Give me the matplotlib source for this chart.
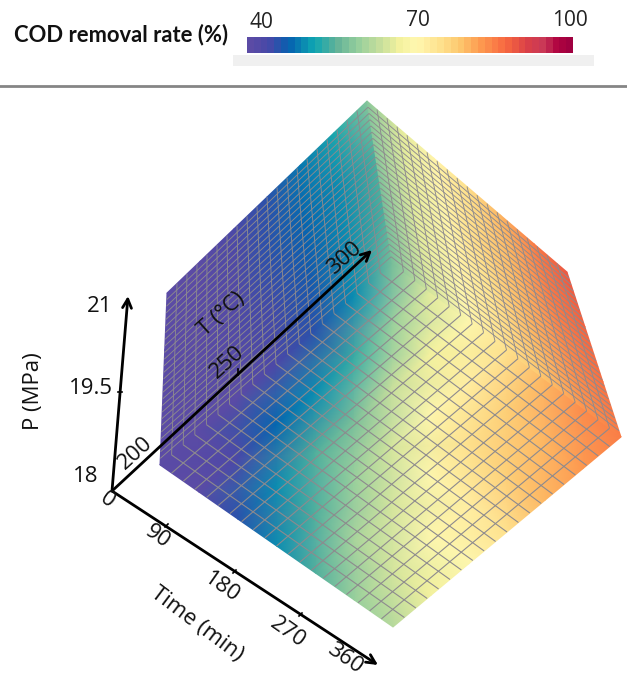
import numpy as np
import matplotlib
matplotlib.use('Agg')
import matplotlib.pyplot as plt
from matplotlib.cm import ScalarMappable
from matplotlib.colors import LinearSegmentedColormap, Normalize
from matplotlib.patches import Rectangle

# COD removal (%), rows run along the first edge of each face
floor_values = [
    [40, 40, 41, 43, 46, 50, 58],
    [41, 43, 48, 50, 54, 60, 67],
    [45, 50, 55, 58, 64, 68, 71],
    [51, 56, 61, 66, 70, 73, 76],
    [56, 62, 66, 71, 75, 78, 81],
    [60, 66, 70, 73, 78, 81, 84],
    [63, 68, 71, 76, 80, 83, 86],
]
left_wall_values = [
    [40, 40, 41, 43, 46, 50, 58],
    [40, 40, 42, 44, 47, 50, 55],
    [40, 40, 42, 45, 48, 51, 55],
    [40, 41, 43, 46, 49, 53, 59],
]
right_wall_values = [
    [58, 66, 71, 75, 79, 83, 86],
    [58, 67, 72, 76, 80, 84, 87],
    [59, 67, 72, 77, 81, 85, 88],
    [59, 67, 72, 76, 80, 85, 89],
]

cbar_ticks = ['40', '70', '100']
time_ticks = ['90', '180', '270', '360']
temp_ticks = ['200', '250', '300']
pres_ticks = ['18', '19.5', '21']

# face corners in canvas pixels
LEFT = (160, 465)
BOTTOM = (393, 627)
RIGHT = (621, 437)
INNER = (392, 263)
TOP = (367, 101)
WALL_L = (167, 293)
WALL_R = (567, 272)
ORIGIN = (112, 491)

GRID = '#8d8a8e'

spectral = LinearSegmentedColormap.from_list('cod', [
    (0.00, '#5b4ba5'), (0.06, '#4648a8'), (0.12, '#0560b0'), (0.20, '#0ea6b2'),
    (0.27, '#62b198'), (0.33, '#90cc9c'), (0.40, '#c2dd9c'), (0.47, '#f4f29e'),
    (0.52, '#fff7b0'), (0.60, '#fee08b'), (0.66, '#fdc56c'), (0.72, '#fd9a50'),
    (0.80, '#f76840'), (0.87, '#d93f48'), (0.92, '#c83858'), (0.96, '#b00440'),
    (1.00, '#a00040')], N=48)
norm = Normalize(40, 100)


def bilinear(c00, c01, c10, c11, u, v):
    # u runs c00->c10, v runs c00->c01
    c00, c01, c10, c11 = map(np.array, (c00, c01, c10, c11))
    u = np.asarray(u)[..., None]
    v = np.asarray(v)[..., None]
    return (1-u)*(1-v)*c00 + (1-u)*v*c01 + u*(1-v)*c10 + u*v*c11


def draw_face(ax, corners, values, n_u, n_v, lw):
    values = np.array(values, dtype=float)
    u, v = np.meshgrid(np.linspace(0, 1, values.shape[0]),
                       np.linspace(0, 1, values.shape[1]), indexing='ij')
    p = bilinear(*corners, u, v)
    ax.pcolormesh(p[..., 0], p[..., 1], values, cmap=spectral, norm=norm,
                  shading='gouraud', zorder=2, rasterized=True)
    for a in np.linspace(0, 1, n_u+1)[1:-1]:
        q = bilinear(*corners, np.array([a, a]), np.array([0., 1.]))
        ax.plot(q[:, 0], q[:, 1], color=GRID, lw=lw, zorder=3, solid_capstyle='butt')
    for b in np.linspace(0, 1, n_v+1)[1:-1]:
        q = bilinear(*corners, np.array([0., 1.]), np.array([b, b]))
        ax.plot(q[:, 0], q[:, 1], color=GRID, lw=lw, zorder=3, solid_capstyle='butt')


plt.rcParams['font.family'] = ['Open Sans', 'DejaVu Sans']
fig = plt.figure(figsize=(6.27, 6.78), dpi=100)
ax = fig.add_axes([0, 0, 1, 1])
ax.set_xlim(0, 627)
ax.set_ylim(678, 0)
ax.axis('off')

draw_face(ax, (LEFT, INNER, BOTTOM, RIGHT), floor_values, 20, 20, 0.8)
draw_face(ax, (LEFT, INNER, WALL_L, TOP), left_wall_values, 26, 20, 0.65)
draw_face(ax, (INNER, RIGHT, TOP, WALL_R), right_wall_values, 26, 20, 0.65)

# header: legend title, colour bar, grey band and rule
ax.text(14, 35, 'COD removal rate (%)', fontsize=15.8, fontweight='bold',
        family='Lato', color='#111111', va='center', ha='left')
ax.add_patch(Rectangle((233, 55), 361, 11, fc='#f0f0f0', ec='none'))
ax.plot([0, 627], [86, 86], color='#858585', lw=2)

cax = fig.add_axes([247/627, 1-53/678, 326/627, 16/678])
cb = fig.colorbar(ScalarMappable(norm=norm, cmap=spectral), cax=cax, orientation='horizontal')
cb.set_ticks([])
cb.outline.set_visible(False)
for lab, (x, y) in zip(cbar_ticks, [(261, 22), (418, 20), (570, 21)]):
    ax.text(x, y, lab, fontsize=15, color='#222222', ha='center', va='center')

# axes arrows
for tip in [(128, 296), (372, 250), (378, 665)]:
    ax.annotate('', xy=tip, xytext=ORIGIN, zorder=5,
                arrowprops=dict(arrowstyle='->', lw=2, color='black', mutation_scale=16,
                                shrinkA=0, shrinkB=0))

# tick stubs
for a, b in [((118, 392), (122, 392)), ((238, 375), (238, 369)),
             ((165, 527), (168, 524)), ((233, 573), (236, 570)), ((299, 616), (302, 613))]:
    ax.plot([a[0], b[0]], [a[1], b[1]], color='black', lw=1.2, zorder=5)

for lab, xy in zip(pres_ticks, [(86, 477), (91, 388), (100, 307)]):
    ax.text(*xy, lab, fontsize=16, color='#111111', ha='center', va='center', zorder=6)
for lab, xy in zip(temp_ticks, [(135, 453), (227, 362), (345, 258)]):
    ax.text(*xy, lab, fontsize=16, color='#111111', ha='center', va='center',
            rotation=42, rotation_mode='anchor', zorder=6)
for lab, xy in zip(time_ticks, [(157, 537), (222, 587), (288, 632), (345, 658)]):
    ax.text(*xy, lab, fontsize=16, color='#111111', ha='center', va='center',
            rotation=-35, rotation_mode='anchor', zorder=6)
ax.text(107, 500, '0', fontsize=16, color='#111111', ha='center', va='center',
        rotation=-35, rotation_mode='anchor', zorder=6)
ax.text(33, 391, 'P (MPa)', fontsize=16, color='#111111', ha='center', va='center', rotation=90)
ax.text(222, 314, 'T (°C)', fontsize=16, color='#111111', ha='center', va='center',
        rotation=42, rotation_mode='anchor', zorder=6)
ax.text(197, 624, 'Time (min)', fontsize=16, color='#111111', ha='center', va='center',
        rotation=-37, rotation_mode='anchor', zorder=6)

fig.savefig('out.png', dpi=100)
